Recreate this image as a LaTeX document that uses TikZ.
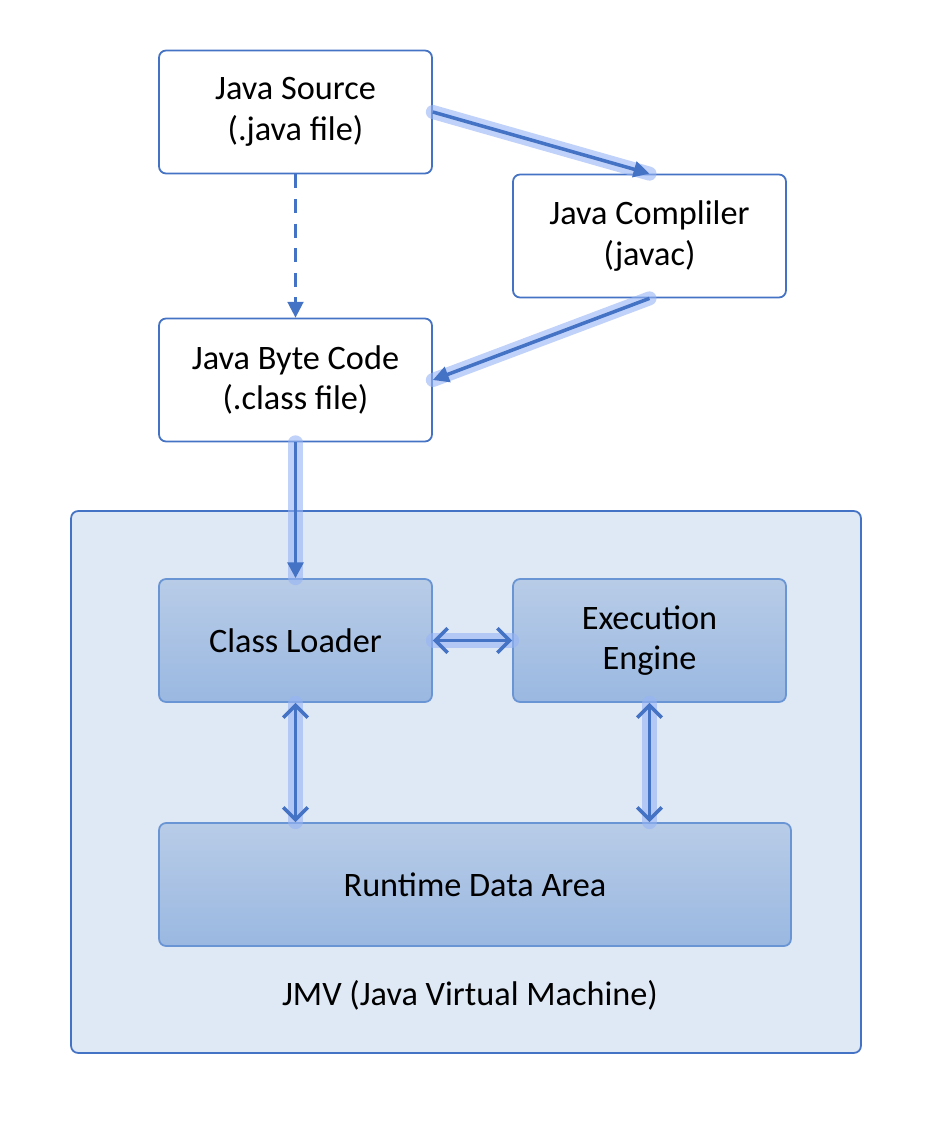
\documentclass[tikz,border=0pt]{standalone}
\usepackage{fontspec}
\setmainfont{Carlito}
\usetikzlibrary{arrows.meta,positioning}
\definecolor{lineblue}{RGB}{68,114,196}
\definecolor{partline}{RGB}{106,149,212}
\definecolor{jvmfill}{RGB}{223,232,245}
\definecolor{parttop}{RGB}{184,204,231}
\definecolor{partbot}{RGB}{154,184,225}
\definecolor{glowblue}{RGB}{150,180,245}
\tikzset{
  file/.style    = {draw=lineblue, line width=1pt, rounded corners=4pt, fill=white,
                    align=center, minimum width=5.46cm, minimum height=2.46cm,
                    font=\fontsize{19.5}{23}\selectfont},
  part/.style    = {file, draw=partline, top color=parttop, bottom color=partbot},
  group/.style   = {draw=lineblue, line width=1pt, rounded corners=4pt, fill=jvmfill},
  glow/.style    = {preaction={draw=glowblue, -, line width=8pt, line cap=round, opacity=0.6}},
  flow/.style    = {-{Triangle[length=9pt,width=9pt]}, draw=lineblue, line width=2pt, glow},
  both/.style    = {{Straight Barb[length=7pt,width=14pt,line width=2pt]}-{Straight Barb[length=7pt,width=14pt,line width=2pt]},
                    draw=lineblue, line width=2pt, glow},
  compile/.style = {-{Triangle[length=9pt,width=9pt]}, draw=lineblue, line width=1.4pt,
                    dash pattern=on 8pt off 6pt}
}
\begin{document}
\begin{tikzpicture}[x=0.02cm, y=-0.02cm]
  \useasboundingbox (0,0) rectangle (950,1136);
  % container
  \node[group, minimum width=15.8cm, minimum height=10.84cm] (jvm) at (466,782) {};
  \node[font=\fontsize{19.5}{23}\selectfont] (jvmlabel) at (470,995) {JMV (Java Virtual Machine)};
  % files and tools
  \node[file] (src) at (295.5,112) {Java Source\\(.java file)};
  \node[file] (javac) at (649.5,236) {Java Compliler\\(javac)};
  \node[file] (bytecode) at (295.5,380) {Java Byte Code\\(.class file)};
  % inside the vm
  \node[part] (loader) at (295.5,640.5) {Class Loader};
  \node[part] (engine) at (649.5,640.5) {Execution\\Engine};
  \node[part, minimum width=12.64cm] (rtda) at (475,884.5) {Runtime Data Area};
  % connectors
  \draw[compile] (src.south) -- (bytecode.north);
  \draw[flow] (src.east) -- (javac.north);
  \draw[flow] (javac.south) -- (bytecode.east);
  \draw[flow] (bytecode.south) -- (loader.north);
  \draw[both] (loader.east) -- (engine.west);
  \draw[both] (loader.south) -- (loader.south |- rtda.north);
  \draw[both] (engine.south) -- (engine.south |- rtda.north);
\end{tikzpicture}
\end{document}
